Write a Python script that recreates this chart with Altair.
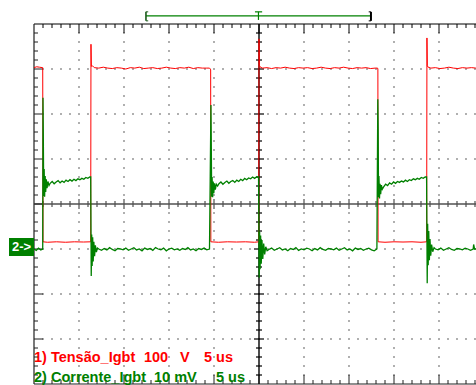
import altair as alt
import pandas as pd

# ---------------- data: time in microseconds (5 us/div), amplitude in screen divisions ----------------
X_MAX = 442 / 9.0          # visible part of the 10-division screen
TRIG_T = 25.0

# Channel 1 - Tensão_Igbt (red)
R_A_T = [0.0, 0.3, 0.6, 0.97]
R_A_V = [3.03, 3.05, 3.04, 3.03]
R_LOW1_T = [1.0, 1.5, 2.5, 3.5, 4.5, 5.5, 6.3]
R_LOW1_V = [-0.84, -0.85, -0.84, -0.85, -0.84, -0.845, -0.84]
R_UP1_T = [6.33, 6.37, 6.5]
R_UP1_V = [3.55, 3.06, 3.07]
R_HIGH1 = (6.7, 0.5, [3.03, 3.02, 3.04, 3.02, 3.01, 3.03, 3.02, 3.00, 3.03, 3.02, 3.04, 3.01, 3.02,
                      3.03, 3.01, 3.02, 3.04, 3.02, 3.01, 3.03, 3.02, 3.04, 3.01, 3.03, 3.02, 3.02])
R_DN1_T = [19.5, 19.6, 19.63]
R_DN1_V = [3.02, 3.0, 2.98]
R_LOW2_T = [19.65, 20.5, 21.5, 22.5, 23.5, 24.5, 24.97]
R_LOW2_V = [-0.84, -0.85, -0.84, -0.845, -0.84, -0.85, -0.84]
R_UP2_T = [25.0, 25.04, 25.15]
R_UP2_V = [3.67, 3.08, 3.04]
R_HIGH2 = (25.4, 0.5, [3.02, 3.03, 3.01, 3.03, 3.02, 3.04, 3.02, 3.01, 3.03, 3.02, 3.03, 3.01, 3.02,
                       3.04, 3.02, 3.01, 3.03, 3.02, 3.04, 3.02, 3.01, 3.03, 3.02, 3.03, 3.01, 3.02])
R_DN2_T = [38.18, 38.21]
R_DN2_V = [3.02, 3.0]
R_LOW3_T = [38.23, 39.0, 40.0, 41.0, 42.0, 43.0, 43.63]
R_LOW3_V = [-0.84, -0.85, -0.84, -0.845, -0.84, -0.85, -0.84]
R_UP3_T = [43.66, 43.7, 43.8]
R_UP3_V = [3.69, 3.07, 3.04]
R_HIGH3 = (44.1, 0.5, [3.02, 3.03, 3.01, 3.02, 3.04, 3.02, 3.01, 3.03, 3.02, 3.03, 3.02])

# Channel 2 - Corrente_Igbt (green)
G_OFF0 = (0.0, 0.25, [-1.0, -1.03, -0.98, -1.02])
G_ON1_T = [0.97, 1.0, 1.03, 1.08, 1.13, 1.18, 1.24, 1.3, 1.37, 1.45, 1.55, 1.67]
G_ON1_V = [-1.0, 2.36, 1.67, 0.18, 0.78, 0.16, 0.62, 0.27, 0.55, 0.35, 0.5, 0.41]
G_HI1 = (1.8, 0.22, [0.46, 0.50, 0.45, 0.49, 0.52, 0.47, 0.51, 0.48, 0.53, 0.50, 0.54, 0.51,
                     0.55, 0.52, 0.56, 0.54, 0.57, 0.55, 0.59, 0.57, 0.60])
G_OFF1_T = [6.3, 6.36, 6.41, 6.46, 6.52, 6.58, 6.65, 6.73, 6.82, 6.93, 7.05]
G_OFF1_V = [0.6, -1.6, -0.68, -1.38, -0.74, -1.28, -0.84, -1.16, -0.92, -1.07, -0.98]
G_LO1 = (7.2, 0.3, [-1.0, -1.03, -0.99, -1.02, -0.97, -1.01, -1.04, -0.99, -1.0, -1.02, -0.98,
                    -1.03, -1.0, -0.97, -1.02, -1.0, -1.04, -0.98, -1.01, -0.99, -1.03, -0.97,
                    -1.0, -1.02, -0.98, -1.04, -1.0, -0.98, -1.02, -1.0, -1.03, -0.99, -1.01,
                    -0.97, -1.02, -1.0, -1.04, -0.99, -1.01, -0.98, -1.02, -1.0])
G_ON2_T = [19.66, 19.7, 19.74, 19.79, 19.85, 19.91, 19.98, 20.06, 20.15, 20.26, 20.4]
G_ON2_V = [2.2, 1.27, 0.16, 0.6, 0.15, 0.5, 0.24, 0.46, 0.32, 0.44, 0.4]
G_HI2 = (20.55, 0.22, [0.45, 0.49, 0.44, 0.48, 0.51, 0.46, 0.50, 0.52, 0.48, 0.53, 0.50, 0.55,
                       0.52, 0.57, 0.54, 0.58, 0.56, 0.60, 0.57, 0.60])
G_OFF2_T = [24.95, 25.02, 25.07, 25.12, 25.18, 25.25, 25.33, 25.42, 25.52, 25.63, 25.75, 25.9]
G_OFF2_V = [0.6, -1.64, -0.62, -1.45, -0.7, -1.33, -0.8, -1.22, -0.88, -1.12, -0.95, -1.04]
G_LO2 = (26.1, 0.3, [-1.01, -0.98, -1.03, -1.0, -0.97, -1.02, -1.0, -1.04, -0.99, -1.01, -0.97,
                     -1.03, -1.0, -1.02, -0.98, -1.0, -1.04, -0.99, -1.02, -0.97, -1.01, -1.03,
                     -0.99, -1.0, -1.02, -0.98, -1.03, -1.0, -0.97, -1.02, -1.0, -1.04, -0.98,
                     -1.01, -0.99, -1.03, -1.0, -0.98, -1.02, -1.04, -1.0])
G_ON3_T = [38.2, 38.24, 38.28, 38.33, 38.39, 38.45, 38.52, 38.6, 38.7]
G_ON3_V = [2.33, 1.67, 0.15, 0.62, 0.12, 0.45, 0.22, 0.42, 0.33]
G_HI3 = (38.85, 0.22, [0.38, 0.44, 0.41, 0.47, 0.44, 0.49, 0.46, 0.50, 0.48, 0.51, 0.49, 0.53,
                       0.50, 0.54, 0.52, 0.56, 0.54, 0.57, 0.55, 0.59, 0.57, 0.60])
G_OFF3_T = [43.62, 43.69, 43.74, 43.8, 43.86, 43.93, 44.0, 44.08, 44.18, 44.3, 44.45]
G_OFF3_V = [0.6, -1.76, -0.44, -1.36, -0.6, -1.25, -0.78, -1.15, -0.9, -1.06, -0.97]
G_LO3 = (44.6, 0.3, [-1.0, -1.02, -0.98, -1.03, -1.0, -0.97, -1.01, -1.03, -0.99, -1.0, -1.02,
                     -0.98, -1.0, -1.03, -1.0])
G_END_T = [48.85, 48.95, 49.11]
G_END_V = [-0.9, -1.0, -1.0]

# Labels
CH1_LABELS = ["1) Tensão_Igbt", "100", "V", "5 us"]
CH1_LABEL_T = [0.0, 12.22, 16.22, 18.89]
CH2_LABELS = ["2) Corrente_Igbt", "10 mV", "5 us"]
CH2_LABEL_T = [0.0, 13.33, 20.22]
CH1_LABEL_V = -3.51
CH2_LABEL_V = -3.955
CH2_REF_LEVEL = -0.956

RED = "#ff0000"
GREEN = "#008000"


def build(parts):
    t_all, v_all = [], []
    for p in parts:
        if len(p) == 2:
            t_all += list(p[0]); v_all += list(p[1])
        else:
            t0, dt, vals = p
            t_all += [t0 + i * dt for i in range(len(vals))]
            v_all += list(vals)
    return pd.DataFrame({"t": t_all, "v": v_all, "i": range(len(t_all))})


red_df = build([(R_A_T, R_A_V), (R_LOW1_T, R_LOW1_V), (R_UP1_T, R_UP1_V), R_HIGH1,
                (R_DN1_T, R_DN1_V), (R_LOW2_T, R_LOW2_V), (R_UP2_T, R_UP2_V), R_HIGH2,
                (R_DN2_T, R_DN2_V), (R_LOW3_T, R_LOW3_V), (R_UP3_T, R_UP3_V), R_HIGH3])
green_df = build([G_OFF0, (G_ON1_T, G_ON1_V), G_HI1, (G_OFF1_T, G_OFF1_V), G_LO1,
                  (G_ON2_T, G_ON2_V), G_HI2, (G_OFF2_T, G_OFF2_V), G_LO2,
                  (G_ON3_T, G_ON3_V), G_HI3, (G_OFF3_T, G_OFF3_V), G_LO3, (G_END_T, G_END_V)])

# ---------------- graticule (decoration) ----------------
PX_X = 9.0   # px per us
PX_Y = 45.0  # px per division
rules = []  # x, x2, y, y2, color, w


def R(x, x2, y, y2, c, w=1.0):
    rules.append({"x": x, "x2": x2, "y": y, "y2": y2, "c": c, "w": w})


# borders and center axes
R(0, X_MAX, 4, 4, "#000000", 1.2)
R(0, X_MAX, -4, -4, "#202020", 1.2)
R(0, 0, -4, 4, "#202020", 1.2)
R(0, X_MAX, 0, 0, "#505050", 1.4)
R(TRIG_T, TRIG_T, -4, 4, "#000000", 1.4)
# ticks along top / bottom / horizontal centre
for k in range(1, 50):
    if k > X_MAX:
        break
    major = k % 5 == 0
    L = (9 if major else 4) / PX_Y
    R(k, k, 4, 4 - L, "#000000")
    R(k, k, -4, -4 + L, "#202020")
    if k != 25:
        h = (5 if major else 3) / PX_Y
        R(k, k, -h, h, "#505050", 1.2)
# ticks along left / vertical centre
for j in range(-19, 20):
    y = j * 0.2
    major = j % 5 == 0
    L = (9 if major else 4) / PX_X
    R(0, L, y, y, "#202020")
    if j != 0:
        h = (5 if major else 3) / PX_X
        R(TRIG_T - h, TRIG_T + h, y, y, "#000000", 1.2)
rules_df = pd.DataFrame(rules)

dots = []
for row in [-3, -2, -1, 1, 2, 3]:
    for k in range(1, 50):
        if k <= X_MAX:
            dots.append({"t": k, "v": row})
for col in [5, 10, 15, 20, 30, 35, 40, 45]:
    for j in range(-19, 20):
        if j % 5 != 0:
            dots.append({"t": col, "v": j * 0.2})
dots_df = pd.DataFrame(dots)

# trigger bar at top
TB_L, TB_R, TB_Y = 12.44, 37.44, 4.18
trig = []
trig.append({"x": TB_L, "x2": TB_R, "y": TB_Y, "y2": TB_Y, "c": GREEN, "w": 1.2})
trig.append({"x": TB_L, "x2": TB_L, "y": 4.27, "y2": 4.07, "c": "#1a5a1a", "w": 1.6})
trig.append({"x": TB_L, "x2": TB_L + 0.25, "y": 4.27, "y2": 4.27, "c": "#1a5a1a", "w": 1})
trig.append({"x": TB_L, "x2": TB_L + 0.25, "y": 4.07, "y2": 4.07, "c": "#1a5a1a", "w": 1})
trig.append({"x": TB_R, "x2": TB_R, "y": 4.27, "y2": 4.07, "c": "#000000", "w": 2})
trig.append({"x": TB_R - 0.25, "x2": TB_R, "y": 4.27, "y2": 4.27, "c": "#000000", "w": 1})
trig.append({"x": TB_R - 0.25, "x2": TB_R, "y": 4.07, "y2": 4.07, "c": "#000000", "w": 1})
trig.append({"x": TRIG_T - 0.06, "x2": TRIG_T - 0.06, "y": 4.27, "y2": 4.09, "c": GREEN, "w": 1.2})
trig.append({"x": TRIG_T - 0.45, "x2": TRIG_T + 0.35, "y": 4.27, "y2": 4.27, "c": GREEN, "w": 1.2})
trig_df = pd.DataFrame(trig)

xs = alt.Scale(domain=[0, X_MAX], nice=False, zero=False)
ys = alt.Scale(domain=[-4, 4], nice=False, zero=False)


def rule_layer(df):
    return alt.Chart(df).mark_rule().encode(
        x=alt.X("x:Q", scale=xs, axis=None), x2="x2:Q",
        y=alt.Y("y:Q", scale=ys, axis=None), y2="y2:Q",
        color=alt.Color("c:N", scale=None),
        strokeWidth=alt.StrokeWidth("w:Q", scale=None),
    )


dots_layer = alt.Chart(dots_df).mark_square(size=2.2, color="#707070", opacity=1).encode(
    x=alt.X("t:Q", scale=xs, axis=None), y=alt.Y("v:Q", scale=ys, axis=None))

red_line = alt.Chart(red_df).mark_line(color=RED, strokeWidth=1.0).encode(
    x=alt.X("t:Q", scale=xs, axis=None), y=alt.Y("v:Q", scale=ys, axis=None), order="i:Q")
green_line = alt.Chart(green_df).mark_line(color=GREEN, strokeWidth=1.3).encode(
    x=alt.X("t:Q", scale=xs, axis=None), y=alt.Y("v:Q", scale=ys, axis=None), order="i:Q")

# channel-2 reference marker "2->"
box_df = pd.DataFrame({"x": [-2.78], "x2": [0.0], "y": [CH2_REF_LEVEL + 0.2], "y2": [CH2_REF_LEVEL - 0.2]})
box = alt.Chart(box_df).mark_rect(color=GREEN).encode(
    x=alt.X("x:Q", scale=xs, axis=None), x2="x2:Q",
    y=alt.Y("y:Q", scale=ys, axis=None), y2="y2:Q")
box_txt = alt.Chart(pd.DataFrame({"t": [-1.39], "v": [CH2_REF_LEVEL], "s": ["2->"]})).mark_text(
    font="Liberation Sans", fontWeight="bold", fontSize=13, color="white",
    align="center", baseline="middle").encode(
    x=alt.X("t:Q", scale=xs, axis=None), y=alt.Y("v:Q", scale=ys, axis=None), text="s:N")

lab_df = pd.DataFrame({
    "t": CH1_LABEL_T + CH2_LABEL_T,
    "v": [CH1_LABEL_V] * len(CH1_LABELS) + [CH2_LABEL_V] * len(CH2_LABELS),
    "s": CH1_LABELS + CH2_LABELS,
    "c": [RED] * len(CH1_LABELS) + [GREEN] * len(CH2_LABELS),
})
labels = alt.Chart(lab_df).mark_text(
    font="Liberation Sans", fontWeight="bold", fontSize=14.5, align="left", baseline="alphabetic").encode(
    x=alt.X("t:Q", scale=xs, axis=None), y=alt.Y("v:Q", scale=ys, axis=None),
    text="s:N", color=alt.Color("c:N", scale=None))

chart = alt.layer(
    dots_layer, rule_layer(rules_df), rule_layer(trig_df), red_line, green_line, box, box_txt, labels
).properties(
    width=442, height=360,
    padding={"left": 34, "top": 24, "right": 0, "bottom": 1},
    autosize=alt.AutoSizeParams(type="none"),
    background="white",
).configure_view(stroke=None)

chart.save("out.html", embed_options={"renderer": "svg", "actions": False})
